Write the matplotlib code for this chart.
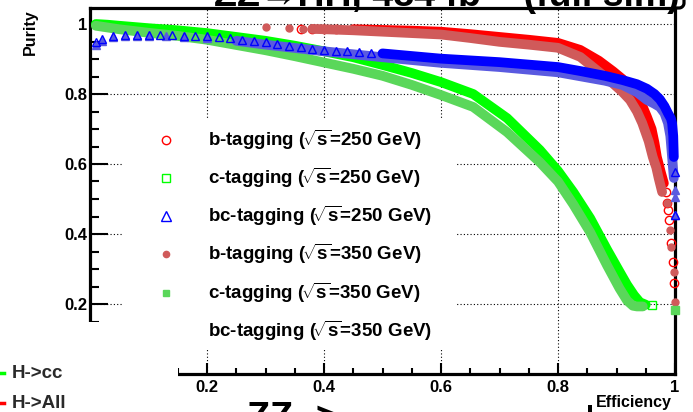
import numpy as np
import matplotlib
matplotlib.use("Agg")
import matplotlib.pyplot as plt
from matplotlib.patches import Rectangle
from matplotlib.lines import Line2D
from matplotlib.ticker import MultipleLocator, FuncFormatter

plt.rcParams['font.family'] = ['Liberation Sans', 'DejaVu Sans']
plt.rcParams['font.weight'] = 'bold'
plt.rcParams['mathtext.fontset'] = 'custom'
plt.rcParams['mathtext.rm'] = 'Liberation Sans:bold'
plt.rcParams['mathtext.it'] = 'Liberation Sans:bold'
plt.rcParams['mathtext.bf'] = 'Liberation Sans:bold'

# ---------------- data: efficiency / purity scans ----------------
b250_eff = [0.36, 0.38, 0.40, 0.42, 0.45, 0.50, 0.55, 0.60, 0.65, 0.70, 0.75, 0.80,
            0.838, 0.87, 0.894, 0.91, 0.923, 0.935, 0.945, 0.952, 0.96, 0.965, 0.969,
            0.976, 0.981]
b250_pur = [0.987, 0.987, 0.986, 0.986, 0.985, 0.983, 0.981, 0.978, 0.971, 0.963, 0.955, 0.946,
            0.926, 0.895, 0.865, 0.843, 0.82, 0.793, 0.763, 0.735, 0.70, 0.66, 0.62,
            0.575, 0.545]
b250_tail_eff = [0.985, 0.987, 0.988, 0.990, 0.993, 0.996, 0.998]
b250_tail_pur = [0.52, 0.489, 0.469, 0.44, 0.374, 0.32, 0.26]

b350_eff = [0.30, 0.34, 0.364, 0.38, 0.40, 0.45, 0.50, 0.55, 0.60, 0.65, 0.70, 0.75, 0.80,
            0.838, 0.87, 0.894, 0.91, 0.923, 0.935, 0.944, 0.955, 0.962, 0.968, 0.972, 0.978]
b350_pur = [0.991, 0.989, 0.987, 0.986, 0.985, 0.982, 0.978, 0.974, 0.970, 0.960, 0.949, 0.941, 0.932,
            0.906, 0.863, 0.83, 0.806, 0.783, 0.75, 0.717, 0.665, 0.62, 0.59, 0.56, 0.52]
b350_tail_eff = [0.986, 0.991, 0.993, 0.998, 1.0]
b350_tail_pur = [0.49, 0.411, 0.363, 0.291, 0.206]

c250_eff = [0.01, 0.03, 0.05, 0.10, 0.15, 0.20, 0.25, 0.30, 0.35, 0.40, 0.45, 0.50, 0.55,
            0.60, 0.655, 0.713, 0.769, 0.80, 0.826, 0.855, 0.884, 0.906, 0.918, 0.93, 0.94, 0.95]
c250_pur = [1.0, 0.998, 0.995, 0.988, 0.982, 0.974, 0.963, 0.952, 0.938, 0.922, 0.905, 0.883, 0.86,
            0.834, 0.80, 0.731, 0.64, 0.58, 0.52, 0.445, 0.355, 0.29, 0.255, 0.225, 0.205, 0.198]
c250_tail_eff = [0.961]
c250_tail_pur = [0.197]

c350_eff = [0.01, 0.03, 0.05, 0.10, 0.15, 0.20, 0.25, 0.30, 0.35, 0.40, 0.45, 0.50, 0.55,
            0.60, 0.655, 0.713, 0.769, 0.80, 0.826, 0.855, 0.884, 0.905, 0.918, 0.928, 0.935, 0.945]
c350_pur = [0.995, 0.99, 0.985, 0.975, 0.966, 0.955, 0.94, 0.925, 0.908, 0.89, 0.872, 0.852, 0.826,
            0.797, 0.763, 0.691, 0.605, 0.55, 0.485, 0.405, 0.31, 0.245, 0.21, 0.195, 0.193, 0.193]
c350_tail_eff = [1.0]
c350_tail_pur = [0.183]

bc250_eff = [0.01, 0.02, 0.04, 0.06, 0.08, 0.10, 0.12, 0.14, 0.16, 0.18, 0.20, 0.22, 0.24,
             0.26, 0.28, 0.30, 0.32, 0.34, 0.36, 0.38, 0.40, 0.42, 0.44, 0.46, 0.48, 0.50,
             0.52, 0.54, 0.56, 0.58, 0.60, 0.65, 0.70, 0.75, 0.80, 0.84, 0.88, 0.91, 0.935,
             0.952, 0.965, 0.974, 0.982, 0.988, 0.993, 0.995, 0.997, 0.998]
bc250_pur = [0.949, 0.958, 0.966, 0.969, 0.970, 0.970, 0.969, 0.968, 0.967, 0.966, 0.965, 0.962, 0.959,
             0.955, 0.951, 0.948, 0.943, 0.938, 0.933, 0.929, 0.926, 0.924, 0.922, 0.920, 0.918, 0.916,
             0.913, 0.910, 0.907, 0.904, 0.901, 0.896, 0.891, 0.884, 0.877, 0.865, 0.852, 0.840, 0.828,
             0.815, 0.80, 0.785, 0.765, 0.745, 0.73, 0.717, 0.68, 0.62]
bc250_tail_eff = [1.0, 1.0]
bc250_tail_pur = [0.577, 0.454]

bc350_eff = [0.01, 0.02, 0.04, 0.06, 0.08, 0.10, 0.13, 0.16, 0.20, 0.25, 0.30, 0.40, 0.50, 0.60,
             0.70, 0.80, 0.84, 0.88, 0.91, 0.935, 0.952, 0.965, 0.974, 0.982, 0.988, 0.992, 0.995, 0.998]
bc350_pur = [0.94, 0.952, 0.962, 0.965, 0.966, 0.966, 0.965, 0.963, 0.96, 0.952, 0.941, 0.922, 0.905,
             0.889, 0.877, 0.862, 0.85, 0.838, 0.826, 0.805, 0.783, 0.772, 0.763, 0.745, 0.717, 0.68,
             0.62, 0.56]
bc350_tail_eff = [1.0, 1.0, 1.0]
bc350_tail_pur = [0.526, 0.506, 0.454]

legend_labels = [r"b-tagging ($\!\sqrt{s}$=250 GeV)",
                 r"c-tagging ($\!\sqrt{s}$=250 GeV)",
                 r"bc-tagging ($\!\sqrt{s}$=250 GeV)",
                 r"b-tagging ($\!\sqrt{s}$=350 GeV)",
                 r"c-tagging ($\!\sqrt{s}$=350 GeV)",
                 r"bc-tagging ($\!\sqrt{s}$=350 GeV)"]
x_ticks = [0.2, 0.4, 0.6, 0.8, 1.0]
y_ticks = [0.2, 0.4, 0.6, 0.8, 1.0]

# ---------------- figure / axes geometry (pixels) ----------------
W, H = 693, 412
fig = plt.figure(figsize=(W / 100, H / 100), dpi=100)


def fx(px):
    return np.asarray(px) / W


def fy(py):
    return 1 - np.asarray(py) / H


x0, x1, ytop, ybot = 90, 675, 8, 374
ax = fig.add_axes([fx(x0), fy(ybot), (x1 - x0) / W, (ybot - ytop) / H])
ax.set_xlim(0, 1)
ax.set_ylim(0, (ybot - ytop) / 350)

for s in ax.spines.values():
    s.set_linewidth(2.3)
ax.set_xticks(x_ticks)
ax.set_yticks(y_ticks)
ax.xaxis.set_minor_locator(MultipleLocator(0.05))
ax.yaxis.set_minor_locator(MultipleLocator(0.05))
fmt = FuncFormatter(lambda v, p: "%g" % round(v, 3))
ax.xaxis.set_major_formatter(fmt)
ax.yaxis.set_major_formatter(fmt)
ax.tick_params(which='both', direction='in', top=False, right=False, width=1.5, labelsize=12)
ax.tick_params(axis='x', which='major', length=8, pad=4)
ax.tick_params(axis='x', which='minor', length=4)
ax.tick_params(axis='y', which='major', length=12.6, pad=2)
ax.tick_params(axis='y', which='minor', length=6.3)
ax.grid(True, which='major', linestyle=(0, (1, 2)), color='black', linewidth=0.8)
ax.set_axisbelow(True)

series = [
    (b250_eff, b250_pur, b250_tail_eff, b250_tail_pur, '#ff0000', 'o', False, 0.45, 6.0, 3),
    (b350_eff, b350_pur, b350_tail_eff, b350_tail_pur, '#d05a5a', 'o', True, 0.37, 5.0, 4),
    (c250_eff, c250_pur, c250_tail_eff, c250_tail_pur, '#00ff00', 's', False, 0.0, 6.0, 5),
    (c350_eff, c350_pur, c350_tail_eff, c350_tail_pur, '#5ad75a', 's', True, 0.0, 6.0, 6),
    (bc350_eff, bc350_pur, bc350_tail_eff, bc350_tail_pur, '#5a5ae0', '^', True, 0.25, 6.0, 7),
    (bc250_eff, bc250_pur, bc250_tail_eff, bc250_tail_pur, '#0000ff', '^', False, 0.50, 6.0, 8),
]

for eff, pur, teff, tpur, col, mk, filled, band_from, ms, z in series:
    eff = np.asarray(eff)
    pur = np.asarray(pur)
    mfc = col if filled else 'none'
    sparse = eff < band_from
    band = ~sparse
    ax.plot(eff[band], pur[band], color=col, lw=7, solid_capstyle='round',
            solid_joinstyle='round', zorder=z, clip_on=False)
    ax.plot(eff[sparse], pur[sparse], ls='none', marker=mk, ms=ms, mfc=mfc, mec=col,
            mew=1.0, zorder=z + 0.1, clip_on=False)
    ax.plot(teff, tpur, ls='none', marker=mk, ms=ms, mfc=mfc, mec=col,
            mew=1.0, zorder=z + 0.1, clip_on=False)

# ---------------- overlays in figure space ----------------
def white_box(xa, ya, xb, yb):
    fig.add_artist(Rectangle((fx(xa), fy(yb)), (xb - xa) / W, (yb - ya) / H,
                             transform=fig.transFigure, facecolor='white',
                             edgecolor='none', zorder=5))


white_box(123, 118, 457, 350)     # legend pad
white_box(-2, 322, 178, 414)      # lower-left inset area

# legend
leg_rows = [140, 178, 216, 254, 293, 331]
leg_marks = [('o', '#ff0000', False, 6.0), ('s', '#00ff00', False, 6.0),
             ('^', '#0000ff', False, 6.5), ('o', '#d05a5a', True, 4.5),
             ('s', '#5ad75a', True, 5.0), None]
for row, lab, mk in zip(leg_rows, legend_labels, leg_marks):
    if mk is not None:
        m, c, filled, ms = mk
        fig.add_artist(Line2D([fx(166)], [fy(row)], transform=fig.transFigure, ls='none',
                              marker=m, ms=ms, mfc=c if filled else 'none', mec=c,
                              mew=1.0, zorder=6))
    fig.text(fx(208), fy(row), lab, fontsize=13.5, fontweight='bold', ha='left',
             va='center', zorder=7)

# axis titles
fig.text(fx(30), fy(9), "Purity", rotation=90, fontsize=11.5, fontweight='bold',
         ha='center', va='top', zorder=7)
fig.text(fx(672), fy(403), "Efficiency", fontsize=11.5, fontweight='bold',
         ha='right', va='center', zorder=7)
fig.add_artist(Rectangle((fx(588), fy(412)), 4 / W, 7 / H, transform=fig.transFigure,
                         facecolor='black', edgecolor='none', zorder=7))

# neighbouring legend snippet
fig.text(fx(12), fy(373), "H->cc", fontsize=13.5, fontweight='bold', color='#2a2a2a',
         ha='left', va='center', zorder=7)
fig.text(fx(12), fy(403), "H->All", fontsize=13.5, fontweight='bold', color='#2a2a2a',
         ha='left', va='center', zorder=7)
fig.add_artist(Line2D([fx(0), fx(4)], [fy(373), fy(373)], transform=fig.transFigure,
                      color='#00ff00', lw=2.5, zorder=7))
fig.add_artist(Line2D([fx(0), fx(4)], [fy(403), fy(403)], transform=fig.transFigure,
                      color='#ff0000', lw=2.5, zorder=7))

# large headings running off the page
fig.text(fx(247), fy(429), "ZZ ->", fontsize=27, fontweight='bold', ha='left',
         va='baseline', zorder=7)
fig.text(fx(680), fy(6), "ZZ\u2192HH, 484 fb\u207b\u00b9 (full sim)", fontsize=27,
         fontweight='bold', ha='right', va='baseline', zorder=7)

# rounded corner of the heading frame
ang = np.linspace(-np.pi / 2, 0, 12)
cx, cy, r = 679, 3, 5
fig.add_artist(Line2D(fx(np.concatenate([[675], cx + r * np.cos(ang), [cx + r]])),
                      fy(np.concatenate([[8], cy - r * np.sin(ang), [-2]])),
                      transform=fig.transFigure, color='black', lw=2.3, zorder=7))

fig.savefig("out.png", dpi=100)
